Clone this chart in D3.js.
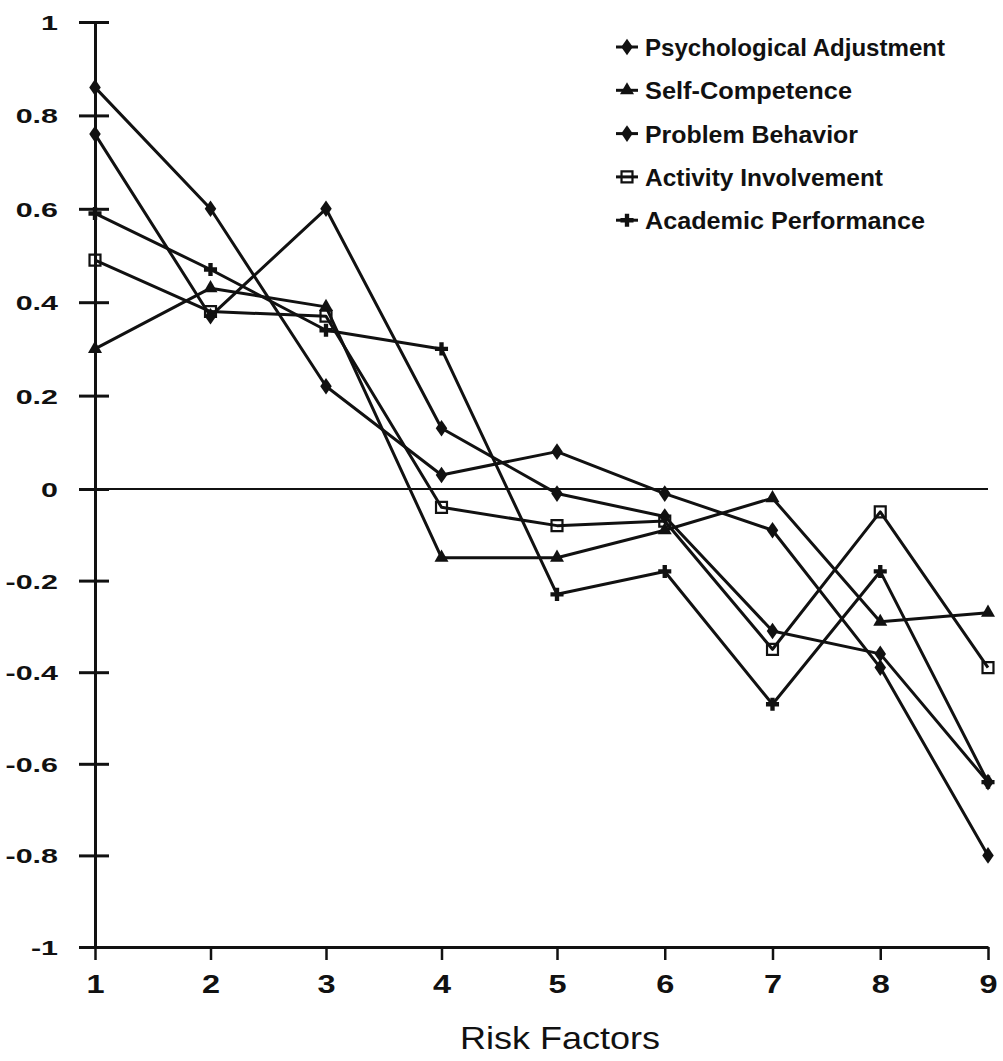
<!DOCTYPE html>
<html>
<head>
<meta charset="utf-8">
<script src="https://cdn.jsdelivr.net/npm/d3@7"></script>
<style>
  html, body { margin: 0; padding: 0; background: #fff; }
  svg { display: block; }
  text { font-family: "Liberation Sans", Arial, sans-serif; fill: #111; }
</style>
</head>
<body>
<svg id="chart" width="1003" height="1061"></svg>
<script>
// ---- data ----
const categories = [1, 2, 3, 4, 5, 6, 7, 8, 9];
const yTickValues = [1, 0.8, 0.6, 0.4, 0.2, 0, -0.2, -0.4, -0.6, -0.8, -1];
const yTickLabels = ["1", "0.8", "0.6", "0.4", "0.2", "0", "-0.2", "-0.4", "-0.6", "-0.8", "-1"];
const xTickLabels = ["1", "2", "3", "4", "5", "6", "7", "8", "9"];
const seriesNames = ["Psychological Adjustment", "Self-Competence", "Problem Behavior", "Activity Involvement", "Academic Performance"];
const psychologicalAdjustment = [0.86, 0.60, 0.22, 0.03, 0.08, -0.01, -0.09, -0.39, -0.80];
const selfCompetence          = [0.30, 0.43, 0.39, -0.15, -0.15, -0.09, -0.02, -0.29, -0.27];
const problemBehavior         = [0.76, 0.37, 0.60, 0.13, -0.01, -0.06, -0.31, -0.36, -0.64];
const activityInvolvement     = [0.49, 0.38, 0.37, -0.04, -0.08, -0.07, -0.35, -0.05, -0.39];
const academicPerformance     = [0.59, 0.47, 0.34, 0.30, -0.23, -0.18, -0.47, -0.18, -0.64];
const xTitle = "Risk Factors";

const seriesValues = [psychologicalAdjustment, selfCompetence, problemBehavior, activityInvolvement, academicPerformance];
const markerTypes = ["diamond", "triangle", "diamond", "square", "plus"];

// ---- layout ----
const svg = d3.select("#chart");
const x = d3.scaleLinear().domain([1, 5, 9]).range([95, 557, 988]);
const y = d3.scaleLinear().domain([-1, 0, 1]).range([947, 489, 22]);

const ink = "#111";

// zero reference line
svg.append("line")
  .attr("x1", x(1)).attr("x2", x(9))
  .attr("y1", y(0)).attr("y2", y(0))
  .attr("stroke", ink).attr("stroke-width", 2);

// y axis
const yAxis = svg.append("g")
  .attr("transform", `translate(${x(1)},0)`)
  .call(d3.axisLeft(y).tickValues(yTickValues).tickSize(0).tickSizeOuter(0).tickFormat(""));
yAxis.select(".domain").attr("stroke", ink).attr("stroke-width", 3);
yAxis.selectAll(".tick line")
  .attr("x1", -16).attr("x2", 14)
  .attr("stroke", ink).attr("stroke-width", 3);
yAxis.selectAll(".tick").each(function(d, i) {
  d3.select(this).append("text")
    .attr("transform", `translate(-37,0) scale(1.45,1)`)
    .attr("text-anchor", "end")
    .attr("dy", "0.36em")
    .attr("font-size", 21)
    .attr("font-weight", "bold")
    .attr("fill", ink)
    .text(yTickLabels[yTickValues.indexOf(d)]);
});

// x axis
const xAxis = svg.append("g")
  .attr("transform", `translate(0,${y(-1)})`)
  .call(d3.axisBottom(x).tickValues(categories).tickSize(13).tickSizeOuter(0).tickFormat(""));
xAxis.select(".domain").attr("stroke", ink).attr("stroke-width", 3);
xAxis.selectAll(".tick line").attr("stroke", ink).attr("stroke-width", 2.5);
xAxis.selectAll(".tick").each(function(d, i) {
  d3.select(this).append("text")
    .attr("transform", `translate(0,46) scale(1.3,1)`)
    .attr("text-anchor", "middle")
    .attr("font-size", 25)
    .attr("font-weight", "bold")
    .attr("fill", ink)
    .text(xTickLabels[i]);
});

// x title
svg.append("text")
  .attr("x", 560).attr("y", 1049)
  .attr("text-anchor", "middle")
  .attr("font-size", 32)
  .attr("textLength", 200).attr("lengthAdjust", "spacingAndGlyphs")
  .attr("fill", ink)
  .text(xTitle);

// markers
function drawMarker(g, type, cx, cy) {
  if (type === "diamond") {
    g.append("path").attr("d", d3.symbol().type(d3.symbolDiamond).size(80)())
      .attr("transform", `translate(${cx},${cy}) scale(1.2,1)`).attr("fill", ink);
  } else if (type === "triangle") {
    g.append("path").attr("d", d3.symbol().type(d3.symbolTriangle).size(85)())
      .attr("transform", `translate(${cx},${cy})`).attr("fill", ink);
  } else if (type === "square") {
    g.append("path").attr("d", d3.symbol().type(d3.symbolSquare).size(120)())
      .attr("transform", `translate(${cx},${cy})`)
      .attr("fill", "none").attr("stroke", ink).attr("stroke-width", 2.2);
  } else if (type === "plus") {
    g.append("path").attr("d", d3.symbol().type(d3.symbolCross).size(95)())
      .attr("transform", `translate(${cx},${cy})`).attr("fill", ink);
  }
}

const line = d3.line().x((d, i) => x(categories[i])).y(d => y(d));
seriesValues.forEach((vals, s) => {
  const g = svg.append("g");
  g.append("path").datum(vals)
    .attr("d", line)
    .attr("fill", "none").attr("stroke", ink).attr("stroke-width", 3)
    .attr("stroke-linejoin", "round");
  vals.forEach((v, i) => drawMarker(g, markerTypes[s], x(categories[i]), y(v)));
});

// legend
const legendWidths = [300, 207, 213, 238, 280];
const legend = svg.append("g");
seriesNames.forEach((name, i) => {
  const ly = 47 + i * 43.3;
  legend.append("line").attr("x1", 616).attr("x2", 638).attr("y1", ly).attr("y2", ly)
    .attr("stroke", ink).attr("stroke-width", 3);
  drawMarker(legend, markerTypes[i], 627, ly);
  legend.append("text")
    .attr("x", 645).attr("y", ly + 9)
    .attr("font-size", 24).attr("font-weight", "bold")
    .attr("textLength", legendWidths[i]).attr("lengthAdjust", "spacingAndGlyphs")
    .attr("fill", ink)
    .text(name);
});
</script>
</body>
</html>
